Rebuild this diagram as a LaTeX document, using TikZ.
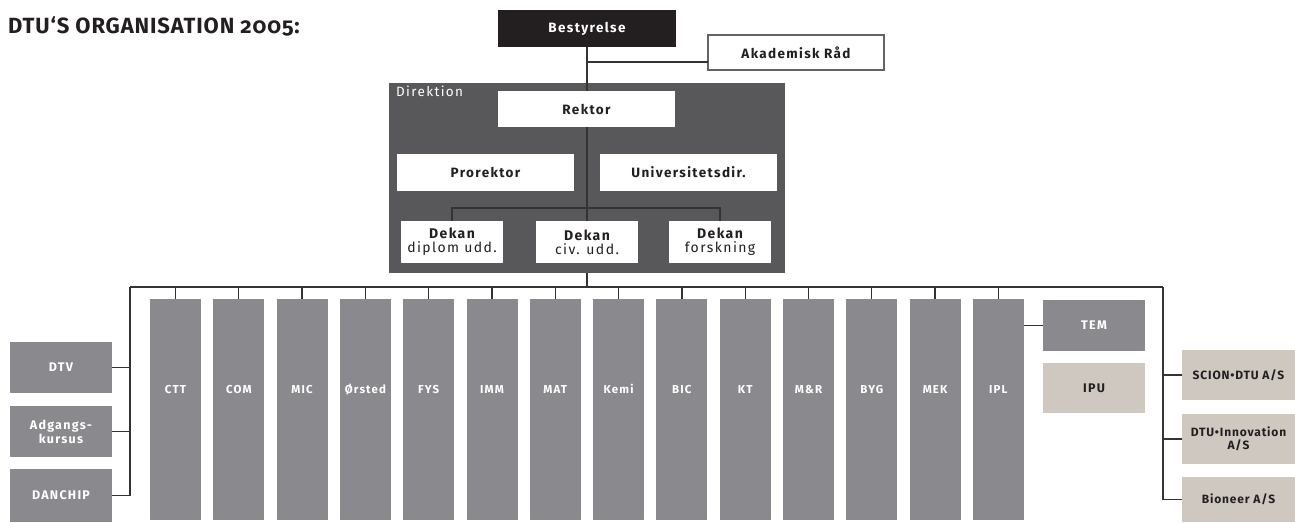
\documentclass[tikz,border=0pt]{standalone}
\usepackage{fontspec}
\setmainfont{Fira Sans}
\newfontfamily\lsfont[LetterSpace=10]{Fira Sans}
\newfontfamily\rsfont[LetterSpace=7]{Fira Sans}
\newfontfamily\titlefont[Numbers=OldStyle,LetterSpace=4]{Fira Sans}
\definecolor{colgray}{RGB}{138,138,142}
\definecolor{dirgray}{RGB}{88,88,90}
\definecolor{beige}{RGB}{206,200,193}
\definecolor{inkblack}{RGB}{35,31,32}
\definecolor{linegray}{RGB}{51,51,51}
\definecolor{framegray}{RGB}{100,100,104}
\begin{document}
\begin{tikzpicture}[x=1pt,y=1pt,yscale=-1,
    box/.style={inner sep=0pt,outer sep=0pt,align=center},
    topbox/.style={box,font=\lsfont\bfseries\fontsize{13.5}{15}\selectfont},
    wbox/.style={topbox,fill=white,text=inkblack},
    dekbox/.style={box,fill=white,text=inkblack,minimum width=102pt,minimum height=42pt,font=\lsfont\fontsize{14}{14}\selectfont},
    col/.style={box,fill=colgray,text=white,minimum width=51pt,minimum height=221pt,text height=8pt,text depth=40pt,font=\lsfont\bfseries\fontsize{11.5}{13}\selectfont},
    sidebox/.style={box,fill=colgray,text=white,minimum width=102pt,minimum height=51pt,font=\lsfont\bfseries\fontsize{12.5}{14}\selectfont},
    firmbox/.style={box,fill=beige,text=inkblack,minimum width=113pt,minimum height=50pt,font=\rsfont\bfseries\fontsize{12}{13}\selectfont},
    conn/.style={draw=linegray,line width=1.3pt}]
    \useasboundingbox (0,0) rectangle (1295,522);

    \node[anchor=base west,inner sep=0pt,text=inkblack,font=\titlefont\bfseries\fontsize{22}{24}\selectfont] (title) at (8,33) {DTU‘S ORGANISATION 2005:};

    \node[topbox,fill=inkblack,text=white,minimum width=178pt,minimum height=37pt] (best) at (587,28.5) {Bestyrelse};
    \node[wbox,draw=framegray,line width=1.2pt,minimum width=176pt,minimum height=35pt] (akad) at (796,52.5) {Akademisk Råd};
    \coordinate (arjoin) at (587,62);

    \node[box,fill=dirgray,minimum width=396pt,minimum height=190pt] (dir) at (587,178) {};
    \node[anchor=north west,inner sep=0pt,text=white,font=\lsfont\fontsize{13.5}{15}\selectfont] (dirlbl) at (396,86) {Direktion};

    \coordinate (dekjoin) at (587,208);
    \coordinate (barl) at (130,287);
    \coordinate (barr) at (1163,287);

    \draw[conn] (best.south) -- (587,91);
    \draw[conn] (arjoin) -- (arjoin -| akad.west);
    \draw[conn] (587,127) -- (587,221);
    \draw[conn] (452,221) |- (dekjoin) -| (720,221);
    \draw[conn] (dir.south) -- (dir.south |- barl);

    \node[wbox,minimum width=177pt,minimum height=36pt] (rektor) at (586.5,109) {Rektor};
    \node[wbox,minimum width=177pt,minimum height=37pt] (prorektor) at (485.5,172.5) {Prorektor};
    \node[wbox,minimum width=177pt,minimum height=37pt] (unidir) at (688.5,172.5) {Universitetsdir.};
    \node[dekbox] (dek1) at (452,242) {\bfseries Dekan\\diplom udd.};
    \node[dekbox] (dek2) at (587,242) {\bfseries Dekan\\civ. udd.};
    \node[dekbox] (dek3) at (720,242) {\bfseries Dekan\\forskning};

    \draw[conn] (barl) -- (barr);

    \foreach \lbl [count=\i from 0] in {CTT,COM,MIC,Ørsted,FYS,IMM,MAT,Kemi,BIC,KT,M\&R,BYG,MEK,IPL}
        \node[col] (col\i) at ({175.5+63.3*\i},409.5) {\lbl};
    \foreach \i in {0,...,13}
        \draw[conn] (col\i.north) -- (col\i.north |- barl);

    \node[sidebox] (dtv) at (61,367.5) {DTV};
    \node[sidebox] (adgang) at (61,431.5) {Adgangs-\\kursus};
    \node[sidebox,minimum height=53pt] (danchip) at (61,495.5) {DANCHIP};
    \draw[conn] (barl) |- (danchip.east);
    \draw[conn] (dtv.east) -- (dtv.east -| barl);
    \draw[conn] (adgang.east) -- (adgang.east -| barl);

    \node[sidebox] (tem) at (1094,325.5) {TEM};
    \node[sidebox,fill=beige,text=inkblack,minimum height=50pt] (ipu) at (1094,388) {IPU};
    \draw[conn] (tem.west) -- (tem.west -| col13.east);

    \node[firmbox] (scion) at (1238.5,375) {SCION•DTU A/S};
    \node[firmbox] (innov) at (1238.5,439) {DTU•Innovation\\A/S};
    \node[firmbox,minimum height=45pt] (bioneer) at (1238.5,499.5) {Bioneer A/S};
    \draw[conn] (barr) |- (bioneer.west);
    \draw[conn] (scion.west) -- (scion.west -| barr);
    \draw[conn] (innov.west) -- (innov.west -| barr);
\end{tikzpicture}
\end{document}
